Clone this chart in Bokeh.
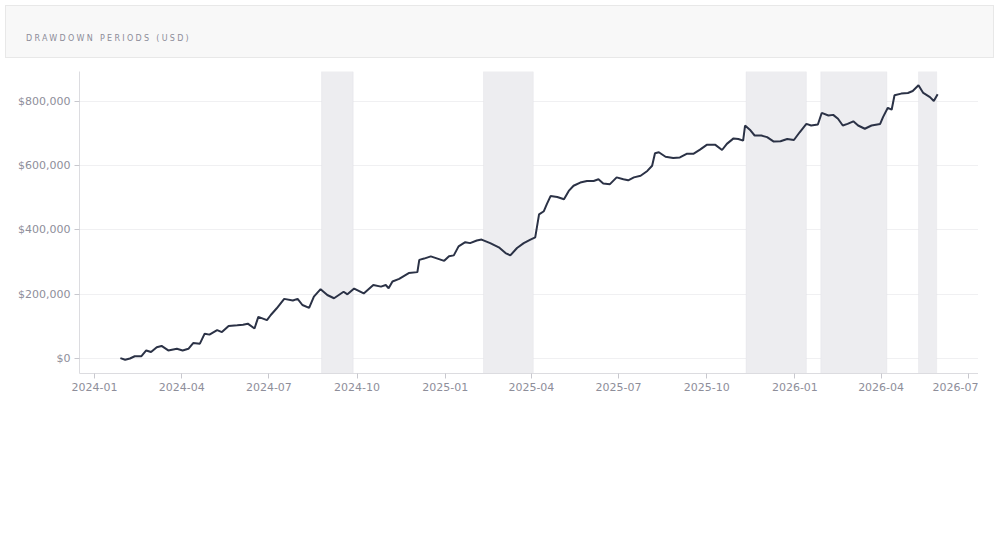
import pandas as pd
from bokeh.plotting import figure
from bokeh.models import (BoxAnnotation, Div, NumeralTickFormatter, DatetimeTickFormatter,
                          MonthsTicker, FixedTicker, ColumnDataSource)
from bokeh.layouts import column
from bokeh.embed import file_html
from bokeh.resources import INLINE

# ---- data ----
dates = [
    "2024-01-28", "2024-02-02", "2024-02-07", "2024-02-12", "2024-02-19", "2024-02-24", "2024-02-29",
    "2024-03-06", "2024-03-11", "2024-03-18", "2024-03-27", "2024-04-02", "2024-04-08", "2024-04-13",
    "2024-04-20", "2024-04-25", "2024-04-30", "2024-05-08", "2024-05-13", "2024-05-20", "2024-05-29",
    "2024-06-04", "2024-06-09", "2024-06-16", "2024-06-20", "2024-06-29", "2024-07-03", "2024-07-09",
    "2024-07-17", "2024-07-26", "2024-07-31", "2024-08-05", "2024-08-12", "2024-08-17", "2024-08-24",
    "2024-08-31", "2024-09-07", "2024-09-17", "2024-09-21", "2024-09-28", "2024-10-08", "2024-10-18",
    "2024-10-26", "2024-10-31", "2024-11-03", "2024-11-07", "2024-11-14", "2024-11-24", "2024-12-03",
    "2024-12-05", "2024-12-10", "2024-12-17", "2024-12-24", "2024-12-31", "2025-01-05", "2025-01-10",
    "2025-01-15", "2025-01-22", "2025-01-27", "2025-02-03", "2025-02-08", "2025-02-17", "2025-02-26",
    "2025-03-05", "2025-03-10", "2025-03-17", "2025-03-24", "2025-03-31", "2025-04-05", "2025-04-09",
    "2025-04-14", "2025-04-17", "2025-04-21", "2025-04-28", "2025-05-05", "2025-05-10", "2025-05-15",
    "2025-05-22", "2025-05-29", "2025-06-05", "2025-06-10", "2025-06-15", "2025-06-22", "2025-06-29",
    "2025-07-06", "2025-07-11", "2025-07-17", "2025-07-24", "2025-07-31", "2025-08-05", "2025-08-08",
    "2025-08-12", "2025-08-19", "2025-08-27", "2025-09-03", "2025-09-10", "2025-09-17", "2025-09-24",
    "2025-10-01", "2025-10-10", "2025-10-17", "2025-10-22", "2025-10-29", "2025-11-03", "2025-11-08",
    "2025-11-10", "2025-11-15", "2025-11-20", "2025-11-27", "2025-12-03", "2025-12-10", "2025-12-17",
    "2025-12-24", "2025-12-31", "2026-01-06", "2026-01-13", "2026-01-18", "2026-01-25", "2026-01-29",
    "2026-02-05", "2026-02-10", "2026-02-15", "2026-02-20", "2026-02-25", "2026-03-03", "2026-03-08",
    "2026-03-15", "2026-03-22", "2026-03-31", "2026-04-03", "2026-04-08", "2026-04-12", "2026-04-15",
    "2026-04-22", "2026-04-29", "2026-05-04", "2026-05-10", "2026-05-15", "2026-05-22", "2026-05-26",
    "2026-05-30",
]
equity = [
    2000, -3000, 1000, 8000, 8000, 26000, 21000,
    36000, 40000, 26000, 31000, 26000, 31000, 49000,
    47000, 78000, 75000, 89000, 83000, 102000, 104000,
    106000, 109000, 94000, 130000, 120000, 136000, 156000,
    186000, 181000, 186000, 167000, 158000, 193000, 216000,
    198000, 188000, 208000, 200000, 218000, 203000, 229000,
    224000, 229000, 219000, 240000, 248000, 266000, 269000,
    307000, 311000, 318000, 311000, 304000, 318000, 321000,
    349000, 362000, 359000, 367000, 370000, 359000, 346000,
    328000, 321000, 344000, 359000, 370000, 377000, 448000,
    458000, 479000, 505000, 502000, 495000, 521000, 537000,
    547000, 552000, 552000, 557000, 544000, 542000, 563000,
    557000, 554000, 563000, 568000, 583000, 599000, 638000,
    641000, 627000, 623000, 625000, 636000, 636000, 649000,
    664000, 664000, 648000, 667000, 684000, 682000, 677000,
    724000, 711000, 693000, 693000, 688000, 674000, 675000,
    682000, 679000, 703000, 729000, 724000, 727000, 763000,
    755000, 757000, 745000, 724000, 729000, 737000, 724000,
    714000, 724000, 729000, 750000, 779000, 773000, 818000,
    823000, 825000, 831000, 849000, 825000, 812000, 800000,
    821000,
]
dd_start = ["2024-08-25", "2025-02-10", "2025-11-11", "2026-01-28", "2026-05-10"]
dd_end = ["2024-09-27", "2025-04-03", "2026-01-13", "2026-04-07", "2026-05-29"]
y_ticks = [0, 200000, 400000, 600000, 800000]
title_text = "DRAWDOWN PERIODS (USD)"

# ---- header ----
header = Div(
    text=title_text, width=989, height=53,
    styles={
        "background-color": "#f8f8f8",
        "border": "1px solid #e8e8e8",
        "box-sizing": "border-box",
        "font-family": "'DejaVu Sans', sans-serif",
        "font-size": "8px",
        "letter-spacing": "2.3px",
        "color": "#8c8c98",
        "padding-left": "20px",
        "padding-top": "27px",
    },
)

# ---- figure ----
src = ColumnDataSource(dict(x=pd.to_datetime(dates), y=equity))

p = figure(width=978, height=472, x_axis_type="datetime", output_backend="svg",
           toolbar_location=None, min_border_left=79, min_border_right=0,
           min_border_top=8, min_border_bottom=162,
           background_fill_color="white", border_fill_color="white")
p.outline_line_color = None

for s, e in zip(dd_start, dd_end):
    box = BoxAnnotation(left=pd.Timestamp(s).value / 1e6, right=pd.Timestamp(e).value / 1e6,
                        fill_color="#ededf0", fill_alpha=1.0,
                        line_color="#dcdce2", line_width=1, level="underlay")
    p.add_layout(box)

p.line("x", "y", source=src, line_color="#2b3246", line_width=2)

p.xgrid.grid_line_color = None
p.ygrid.grid_line_color = "#f0f0f2"
p.ygrid.grid_line_width = 1

p.yaxis.ticker = FixedTicker(ticks=y_ticks)
p.yaxis.formatter = NumeralTickFormatter(format="$0,0")
p.xaxis.ticker = MonthsTicker(months=[0, 3, 6, 9])
p.xaxis.formatter = DatetimeTickFormatter(months="%Y-%m", days="%Y-%m", years="%Y-%m",
                                          hours="%Y-%m", context=None)

for ax in (p.xaxis, p.yaxis):
    ax.axis_line_color = "#dcdce0"
    ax.major_tick_line_color = "#c8c8ce"
    ax.minor_tick_line_color = None
    ax.major_tick_in = 0
    ax.major_tick_out = 5
    ax.major_label_text_font = "DejaVu Sans"
    ax.major_label_text_font_size = "11px"
    ax.major_label_text_color = "#8e8e9a"
    ax.major_label_standoff = 4

layout = column(header, p, spacing=0)
open("out.html", "w").write(file_html(layout, INLINE))
